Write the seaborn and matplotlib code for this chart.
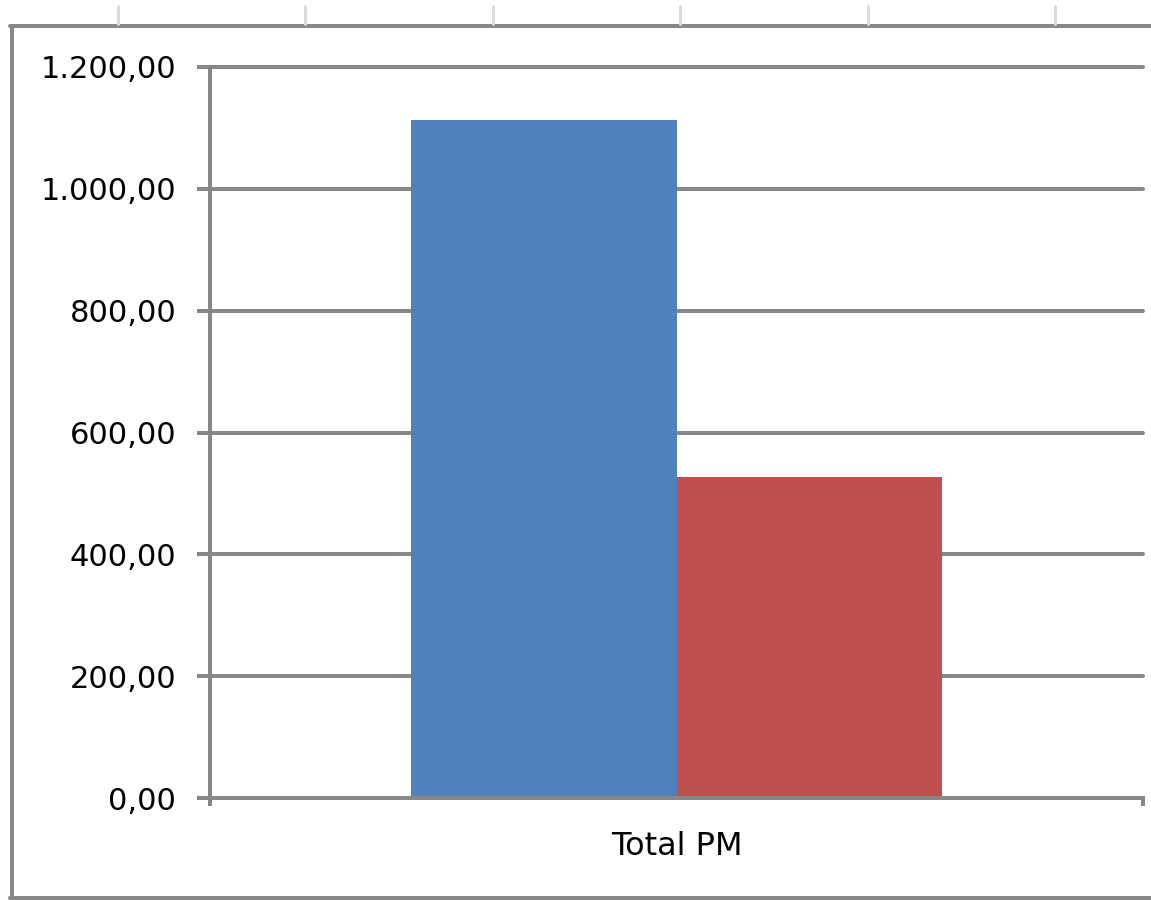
import pandas as pd
import matplotlib.pyplot as plt
import seaborn as sns
from matplotlib.lines import Line2D
from matplotlib.ticker import FuncFormatter, FixedLocator

# Données
categories = ["Total PM"]
series = ["Série 1", "Série 2"]
valeurs = [1113, 527]
couleurs = ["#4F81BD", "#C0504D"]
yticks = [0, 200, 400, 600, 800, 1000, 1200]

df = pd.DataFrame({
    "categorie": categories * len(series),
    "serie": series,
    "valeur": valeurs,
})

sns.set_theme(style="white")
plt.rcParams["font.family"] = ["DejaVu Sans"]

gris = "#878787"
px = 72 / 100  # un pixel en points (dpi 100)

fig = plt.figure(figsize=(11.51, 9), dpi=100)
ax = fig.add_axes([210 / 1151, 1 - 798 / 900, (1143 - 210) / 1151, (798 - 67) / 900])

sns.barplot(data=df, x="categorie", y="valeur", hue="serie", palette=couleurs,
            width=0.57, saturation=1, gap=0, legend=False, ax=ax)
for b in ax.patches:
    b.set_edgecolor("none")

ax.set_xlim(-0.5, 0.5)
ax.set_ylim(0, 1200)
ax.set_yticks(yticks)
ax.yaxis.set_major_formatter(FuncFormatter(
    lambda v, p: f"{v:,.2f}".replace(",", " ").replace(".", ",").replace(" ", ".")))
ax.set_xlabel("")
ax.set_ylabel("")

# quadrillage horizontal
ax.grid(axis="y", color=gris, linewidth=4 * px)
ax.set_axisbelow(True)
for gl in ax.get_ygridlines():
    gl.set_clip_on(False)
for s in ["top", "right"]:
    ax.spines[s].set_visible(False)
for s in ["left", "bottom"]:
    ax.spines[s].set_color(gris)
    ax.spines[s].set_linewidth(4 * px)

ax.tick_params(axis="y", left=True, length=13 * px, width=4 * px, color=gris, pad=15,
               labelsize=22, labelcolor="black")
ax.tick_params(axis="x", which="major", bottom=True, length=0, pad=24, labelsize=23,
               labelcolor="black")
ax.xaxis.set_minor_locator(FixedLocator([-0.5, 0.5]))
ax.tick_params(axis="x", which="minor", bottom=True, length=8 * px, width=4 * px, color=gris)

# cadre du graphique (style Excel)
fig.add_artist(Line2D([11.5 / 1151, 11.5 / 1151], [1 - 25.5 / 900, 1 - 897.5 / 900],
                      color=gris, linewidth=4 * px, transform=fig.transFigure))
fig.add_artist(Line2D([10 / 1151, 1], [1 - 25.5 / 900, 1 - 25.5 / 900],
                      color=gris, linewidth=4 * px, transform=fig.transFigure))
fig.add_artist(Line2D([10 / 1151, 1], [1 - 897.5 / 900, 1 - 897.5 / 900],
                      color=gris, linewidth=4 * px, transform=fig.transFigure))

# lignes de la feuille au-dessus du cadre
for x in [118, 305, 493, 680, 868, 1055]:
    fig.add_artist(Line2D([x / 1151, x / 1151], [1 - 6 / 900, 1 - 24 / 900],
                          color="#DCDCDC", linewidth=3 * px, transform=fig.transFigure))

fig.savefig("out.png", dpi=100)
